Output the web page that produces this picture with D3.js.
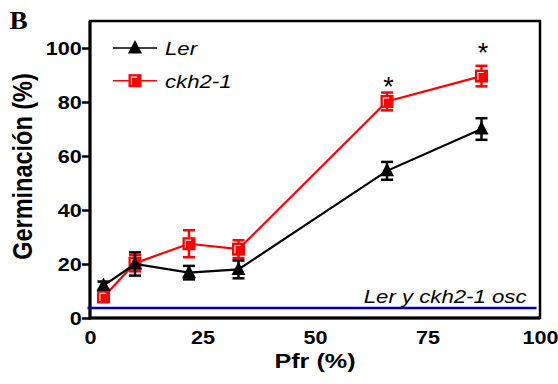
<!DOCTYPE html>
<html>
<head>
<meta charset="utf-8">
<script src="https://cdn.jsdelivr.net/npm/d3@7"></script>
<style>
  html, body { margin: 0; padding: 0; background: #fff; }
  svg { display: block; font-family: "Liberation Sans", Arial, Helvetica, sans-serif; }
</style>
</head>
<body>
<svg id="chart" width="558" height="384"></svg>
<script>
// Germination (%) as a function of Pfr (%) for two genotypes
const pfr      = [3, 10, 22, 33, 66, 87];
const lerMean  = [12, 20, 16.8, 18, 54.5, 70];
const lerErr   = [1.5, 4.3, 2.5, 3.3, 3.3, 4];
const ckhMean  = [7.8, 20.3, 27.5, 25.5, 80.2, 89.6];
const ckhErr   = [1.5, 3, 5, 3.3, 3.3, 3.8];
const darkLevel = 3.7;                 // both genotypes in darkness
const sigPfr   = [66, 87];             // significant differences
const sigLevel = [87.5, 100];
const xTicks   = [0, 25, 50, 75, 100];
const yTicks   = [0, 20, 40, 60, 80, 100];
const seriesNames = ["Ler", "ckh2-1"];
const darkLabel = "Ler y ckh2-1 osc";

const svg = d3.select("#chart");
const SX = 1.2;   // horizontal stretch of the lettering
const SANS = "Liberation Sans, Arial, sans-serif";

const x = d3.scaleLinear().domain([0, 100]).range([90, 540]);
const y = d3.scaleLinear().domain([0, 110]).range([318, 21]);

// frame
svg.append("rect")
  .attr("x", x(0)).attr("y", y(110))
  .attr("width", x(100) - x(0)).attr("height", y(0) - y(110))
  .attr("fill", "none").attr("stroke", "#000").attr("stroke-width", 2.5);

// y axis
const yAxis = svg.append("g")
  .attr("transform", `translate(${x(0)},0)`)
  .call(d3.axisLeft(y).tickValues(yTicks).tickSize(8).tickPadding(0));
yAxis.select(".domain").remove();
yAxis.selectAll(".tick line").attr("stroke", "#000").attr("stroke-width", 2.5);
yAxis.selectAll(".tick text")
  .attr("x", -6.8).attr("dy", "0.36em")
  .attr("transform", `scale(${SX},1)`)
  .attr("font-size", 18).attr("font-weight", "bold").attr("fill", "#000")
  .style("font-family", SANS);

// x axis (labels only)
const xAxis = svg.append("g")
  .attr("transform", `translate(0,${y(0)})`)
  .call(d3.axisBottom(x).tickValues(xTicks).tickSize(0).tickPadding(0));
xAxis.select(".domain").remove();
xAxis.selectAll(".tick text")
  .attr("y", 26).attr("dy", 0)
  .attr("transform", `scale(${SX},1)`)
  .attr("font-size", 18).attr("font-weight", "bold").attr("fill", "#000")
  .style("font-family", SANS);

// axis lines drawn thick over the frame
svg.append("line").attr("x1", x(0)).attr("x2", x(0)).attr("y1", y(110)).attr("y2", y(0) + 1.2)
  .attr("stroke", "#000").attr("stroke-width", 3);
svg.append("line").attr("x1", x(0) - 1.2).attr("x2", x(100)).attr("y1", y(0)).attr("y2", y(0))
  .attr("stroke", "#000").attr("stroke-width", 3);

// stretched text helper
function label(txt, px, py, opts) {
  const o = Object.assign({ size: 18, weight: "normal", style: "normal", anchor: "start", rotate: 0, family: SANS, sx: SX }, opts);
  return svg.append("text")
    .attr("transform", `translate(${px},${py}) scale(${o.sx},1)` + (o.rotate ? ` rotate(${o.rotate})` : ""))
    .attr("font-size", o.size).attr("font-weight", o.weight).attr("font-style", o.style)
    .attr("text-anchor", o.anchor).attr("fill", "#000")
    .style("font-family", o.family)
    .text(txt);
}

// panel letter and axis titles
label("B", 9.5, 28.5, { size: 26, weight: "bold", family: "'Liberation Serif', 'Times New Roman', serif", sx: 1.05 });
label("Pfr (%)", x(50), 368.3, { size: 21, weight: "bold", anchor: "middle" });
label("Germinación (%)", 31.5, 166.5, { size: 23.5, weight: "bold", anchor: "middle", rotate: -90 });

// darkness reference line
svg.append("line")
  .attr("x1", x(0) - 2.5).attr("x2", x(100) - 3.5)
  .attr("y1", y(darkLevel)).attr("y2", y(darkLevel))
  .attr("stroke", "#0000bb").attr("stroke-width", 2.5);
label(darkLabel, x(100) - 13.5, 303.3, { size: 18.5, style: "italic", anchor: "end" });

// markers
function triangle(g, color) {
  g.append("path").attr("d", "M0,-8L7,5.5L-7,5.5Z").attr("fill", color);
}
function square(g, color) {
  g.append("rect").attr("x", -6.5).attr("y", -6.5).attr("width", 13).attr("height", 13).attr("fill", color);
  g.append("path").attr("d", "M2.2,-3.6H-3.6V4").attr("fill", "none")
    .attr("stroke", "#fff").attr("stroke-width", 1.1);
}

function drawSeries(means, errs, color, marker) {
  const pts = pfr.map((p, i) => ({ p, m: means[i], e: errs[i] }));
  const g = svg.append("g");
  g.append("path").datum(pts)
    .attr("d", d3.line().x(d => x(d.p)).y(d => y(d.m)))
    .attr("fill", "none").attr("stroke", color).attr("stroke-width", 2.2);
  const eb = g.selectAll(".eb").data(pts).join("g")
    .attr("stroke", color).attr("stroke-width", 2.5);
  eb.append("line").attr("x1", d => x(d.p)).attr("x2", d => x(d.p))
    .attr("y1", d => y(d.m + d.e)).attr("y2", d => y(d.m - d.e));
  [1, -1].forEach(s => {
    eb.append("line").attr("x1", d => x(d.p) - 6).attr("x2", d => x(d.p) + 6)
      .attr("y1", d => y(d.m + s * d.e)).attr("y2", d => y(d.m + s * d.e));
  });
  g.selectAll(".mk").data(pts).join("g")
    .attr("transform", d => `translate(${x(d.p)},${y(d.m)})`)
    .each(function () { marker(d3.select(this), color); });
}

drawSeries(ckhMean, ckhErr, "#ff0000", square);
drawSeries(lerMean, lerErr, "#000000", triangle);

// significance marks
sigPfr.forEach((p, i) => {
  svg.append("text")
    .attr("x", x(p) + 1.5).attr("y", y(sigLevel[i]) + 14)
    .attr("text-anchor", "middle").attr("font-size", 27)
    .attr("fill", "#000").style("font-family", SANS).text("*");
});

// legend
const legendRows = [
  { name: seriesNames[0], color: "#000000", marker: triangle, cy: 48 },
  { name: seriesNames[1], color: "#ff0000", marker: square, cy: 80.7 }
];
legendRows.forEach(r => {
  svg.append("line").attr("x1", 113).attr("x2", 157).attr("y1", r.cy).attr("y2", r.cy)
    .attr("stroke", r.color).attr("stroke-width", 1.6);
  const g = svg.append("g").attr("transform", `translate(135,${r.cy})`);
  r.marker(g, r.color);
  label(r.name, 165, r.cy + 7.2, { size: 18.5, style: "italic" });
});
</script>
</body>
</html>
